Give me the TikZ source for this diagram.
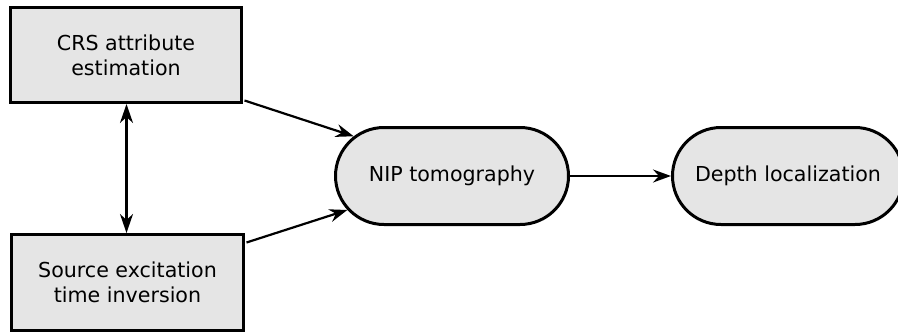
\documentclass[tikz,border=0pt]{standalone}
\usepackage{fontspec}
\setmainfont{DejaVu Sans}
\usetikzlibrary{shapes.misc,arrows.meta,calc}
\definecolor{boxfill}{HTML}{E5E5E5}
\begin{document}
\begin{tikzpicture}[x=1pt,y=-1pt,
  every node/.style={font=\fontsize{20.6}{25.3}\selectfont, align=center, inner sep=0pt},
  procbox/.style={draw=black, line width=3pt, fill=boxfill, rectangle},
  stadium/.style={draw=black, line width=3pt, fill=boxfill, rounded rectangle, rounded rectangle arc length=180},
  conn/.style={line width=2.2pt, -{Stealth[length=18pt,width=13pt,inset=6pt]}},
  biconn/.style={line width=2.2pt, {Stealth[length=19pt,width=13pt,inset=6pt]}-{Stealth[length=19pt,width=13pt,inset=6pt]}}
]
\useasboundingbox (0,0) rectangle (898,335);
\node[procbox, minimum width=231pt, minimum height=95pt] (crs) at (126,55) {CRS attribute\\estimation};
\node[procbox, minimum width=232pt, minimum height=96pt] (src) at (127.5,282.5) {Source excitation\\time inversion};
\node[stadium, minimum width=233pt, minimum height=97pt] (nip) at (452,176) {NIP tomography};
\node[stadium, minimum width=231pt, minimum height=97pt] (depth) at (788,176) {Depth localization};
\draw[biconn] ($(crs.south)+(0.5,0)$) -- ($(crs.south |- src.north)+(0.5,0)$);
\draw[conn] ($(crs.south east)+(1.5,-3.5)$) -- (nip.158.8);
\draw[conn] ($(src.north east)+(1.5,9.5)$) -- (nip.198.4);
\draw[conn] (nip.east) -- (depth.west);
\end{tikzpicture}
\end{document}
